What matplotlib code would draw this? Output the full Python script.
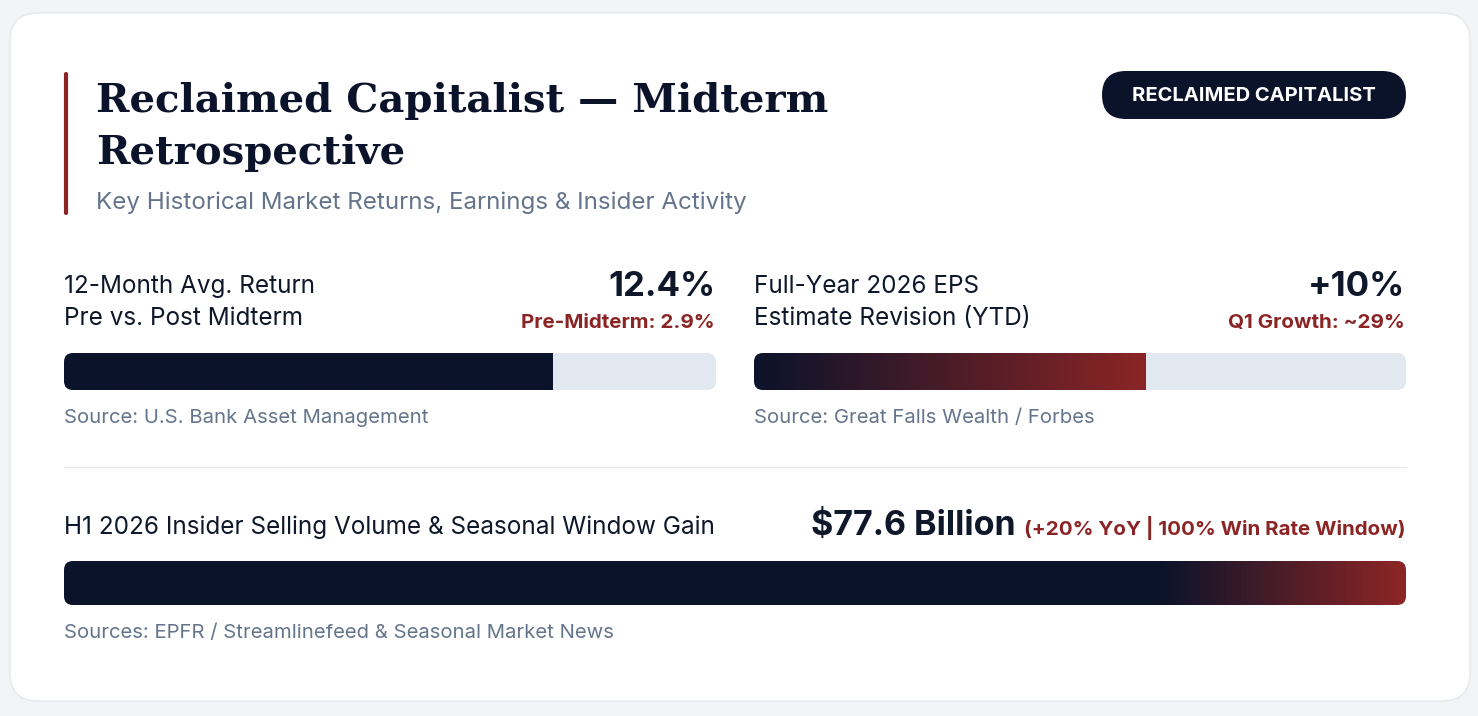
import numpy as np
import matplotlib.pyplot as plt
from matplotlib.patches import FancyBboxPatch
from matplotlib.colors import LinearSegmentedColormap

# --- data ---
title_lines = ["Reclaimed Capitalist \u2014 Midterm", "Retrospective"]
subtitle = "Key Historical Market Returns, Earnings & Insider Activity"
badge = "RECLAIMED CAPITALIST"

metric_labels = [["12-Month Avg. Return", "Pre vs. Post Midterm"],
                 ["Full-Year 2026 EPS", "Estimate Revision (YTD)"]]
metric_values = ["12.4%", "+10%"]
metric_notes = ["Pre-Midterm: 2.9%", "Q1 Growth: ~29%"]
metric_fill = [0.75, 0.60]
metric_sources = ["Source: U.S. Bank Asset Management",
                  "Source: Great Falls Wealth / Forbes"]

wide_label = "H1 2026 Insider Selling Volume & Seasonal Window Gain"
wide_value = "$77.6 Billion"
wide_note = "(+20% YoY | 100% Win Rate Window)"
wide_fill = 1.0
wide_source = "Sources: EPFR / Streamlinefeed & Seasonal Market News"

# --- colors ---
NAVY = "#0b132b"
RED = "#8b2525"
TEXT = "#0f172a"
GRAY = "#64748b"
TRACK = "#e2e8f0"

plt.rcParams["font.family"] = ["Inter", "DejaVu Sans"]

W, H = 1478, 716
fig = plt.figure(figsize=(W / 100, H / 100), dpi=100)
fig.patch.set_facecolor("#f3f4f6")
ax = fig.add_axes([0, 0, 1, 1])
ax.set_xlim(0, W)
ax.set_ylim(H, 0)
ax.axis("off")

# card
card = FancyBboxPatch((10, 13), 1460, 688, boxstyle="round,pad=0,rounding_size=28",
                      facecolor="white", edgecolor="#e5e7eb", linewidth=1)
ax.add_patch(card)

# header
ax.plot([66, 66], [74, 213], color=RED, lw=3, solid_capstyle="round")
ax.text(96, 112, title_lines[0], fontsize=29, fontweight="bold", color=NAVY,
        family=["DejaVu Serif"], va="baseline")
ax.text(96, 164, title_lines[1], fontsize=29, fontweight="bold", color=NAVY,
        family=["DejaVu Serif"], va="baseline")
ax.text(96, 209, subtitle, fontsize=17.4, color=GRAY, va="baseline")

pill = FancyBboxPatch((1102, 71), 304, 48, boxstyle="round,pad=0,rounding_size=24",
                      facecolor=NAVY, edgecolor="none")
ax.add_patch(pill)
ax.text(1254, 96, badge, fontsize=14.5, fontweight="bold", color="white",
        ha="center", va="center")


def gradient_cmap(stops):
    return LinearSegmentedColormap.from_list("g", stops)


def draw_bar(x0, y0, w, h, frac, cmap, radius):
    track = FancyBboxPatch((x0, y0), w, h, boxstyle=f"round,pad=0,rounding_size={radius}",
                           facecolor=TRACK, edgecolor="none")
    ax.add_patch(track)
    fill_w = w * frac
    grad = np.linspace(0, 1, 256).reshape(1, -1)
    im = ax.imshow(grad, cmap=cmap, extent=(x0, x0 + fill_w, y0 + h, y0),
                   aspect="auto", interpolation="bilinear", zorder=2)
    im.set_clip_path(track)


# two metric panels
col_x = [64, 754]
col_w = 652
cmaps = [gradient_cmap([NAVY, NAVY]), gradient_cmap([NAVY, RED])]
for i in range(2):
    x0 = col_x[i]
    ax.text(x0, 293, metric_labels[i][0], fontsize=17.5, color=TEXT, va="baseline")
    ax.text(x0, 325, metric_labels[i][1], fontsize=17.5, color=TEXT, va="baseline")
    ax.text(x0 + col_w - 1, 296, metric_values[i], fontsize=25, fontweight="bold",
            color=TEXT, ha="right", va="baseline")
    ax.text(x0 + col_w - 1, 328, metric_notes[i], fontsize=14.8, fontweight="bold",
            color=RED, ha="right", va="baseline")
    draw_bar(x0, 353, col_w, 37, metric_fill[i], cmaps[i], 9)
    ax.text(x0, 423, metric_sources[i], fontsize=14.6, color=GRAY, va="baseline")

# divider
ax.plot([64, 1406], [467, 467], color="#e5e7eb", lw=1)

# wide panel
ax.text(64, 534, wide_label, fontsize=17.5, color=TEXT, va="baseline")
note = ax.text(1406, 535, wide_note, fontsize=14.8, fontweight="bold", color=RED,
               ha="right", va="baseline")
fig.canvas.draw()
bb = note.get_window_extent(fig.canvas.get_renderer())
note_left = ax.transData.inverted().transform((bb.x0, bb.y0))[0]
ax.text(note_left - 9, 535, wide_value, fontsize=24.5, fontweight="bold", color=TEXT,
        ha="right", va="baseline")
wide_cmap = LinearSegmentedColormap.from_list("w", [(0, NAVY), (0.82, NAVY), (1, RED)])
draw_bar(64, 561, 1342, 44, wide_fill, wide_cmap, 9)
ax.text(64, 638, wide_source, fontsize=14.6, color=GRAY, va="baseline")

fig.savefig("out.png", dpi=100, facecolor=fig.get_facecolor())
